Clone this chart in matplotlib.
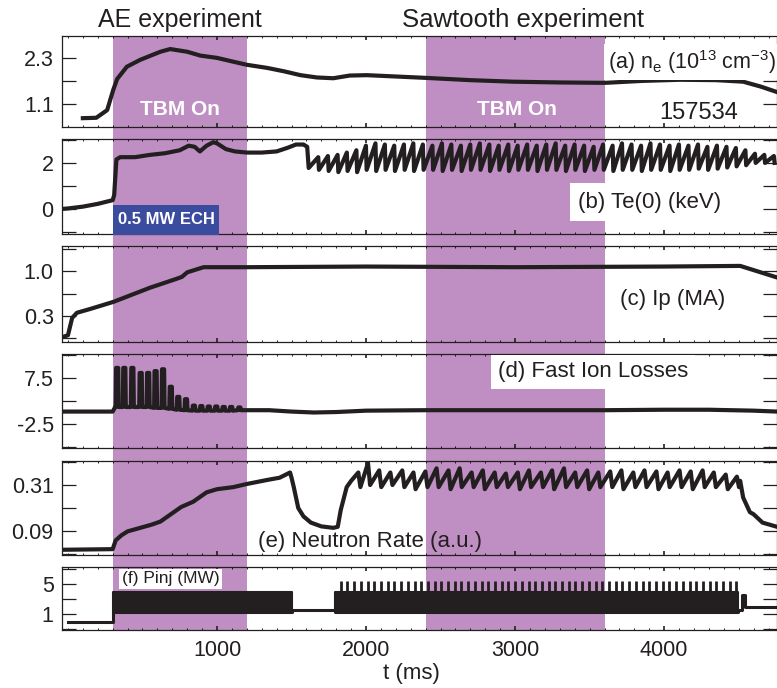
import numpy as np
import matplotlib
matplotlib.use('Agg')
import matplotlib.pyplot as plt
from matplotlib.patches import Rectangle
from matplotlib.transforms import blended_transform_factory

plt.rcParams['font.family'] = ['Liberation Sans', 'DejaVu Sans']
plt.rcParams['mathtext.fontset'] = 'custom'
plt.rcParams['mathtext.rm'] = 'Liberation Sans'
plt.rcParams['mathtext.it'] = 'Liberation Sans:italic'

W, H = 777, 688
INK = '#231f20'
PURPLE = '#bf8fc3'

# ---- data ----
span_start = [300, 2400]
span_end = [1200, 3600]

# (a) line-averaged density
ne_t = [100, 190, 263, 304, 330, 395, 485, 620, 686, 800, 888, 1000, 1110, 1200, 1335, 1450,
        1560, 1670, 1780, 1890, 2005, 2230, 2396, 2700, 2987, 3300, 3604, 3850, 4106, 4350,
        4530, 4650, 4757]
ne_v = [0.73, 0.74, 0.94, 1.47, 1.75, 2.07, 2.25, 2.46, 2.53, 2.46, 2.36, 2.30, 2.20, 2.12,
        2.04, 1.95, 1.85, 1.79, 1.77, 1.84, 1.85, 1.81, 1.78, 1.72, 1.68, 1.66, 1.65, 1.70,
        1.73, 1.72, 1.68, 1.55, 1.41]

# (b) central Te: ramp-up part, then sawtooth crashes
te_t = [-40, 0, 100, 200, 300, 310, 325, 350, 450, 550, 650, 750, 810, 850, 885, 930, 975,
        1000, 1060, 1120, 1200, 1300, 1400, 1470, 1530, 1580, 1605, 1615]
te_v = [0.0, 0.02, 0.10, 0.22, 0.38, 0.60, 2.15, 2.25, 2.25, 2.35, 2.42, 2.55, 2.75, 2.70,
        2.50, 2.75, 2.90, 2.85, 2.60, 2.50, 2.45, 2.45, 2.50, 2.65, 2.80, 2.80, 2.70, 1.78]
te_crash = [1680, 1745, 1810, 1872, 1936, 2000, 2064, 2127, 2190, 2255, 2318, 2382, 2446,
            2510, 2573, 2637, 2700, 2764, 2828, 2891, 2955, 3018, 3082, 3146, 3210, 3273,
            3337, 3400, 3464, 3528, 3591, 3655, 3718, 3782, 3846, 3909, 3973, 4037, 4100,
            4164, 4228, 4291, 4355, 4419, 4482, 4546, 4610, 4673, 4737]
te_peak = [2.25, 2.30, 2.35, 2.45, 2.55, 2.75, 2.85, 2.80, 2.75, 2.80, 2.85, 2.80, 2.75,
           2.85, 2.80, 2.75, 2.80, 2.85, 2.80, 2.75, 2.80, 2.75, 2.80, 2.75, 2.80, 2.85,
           2.75, 2.80, 2.75, 2.70, 2.80, 2.75, 2.85, 2.80, 2.75, 2.85, 2.80, 2.75, 2.80,
           2.75, 2.80, 2.70, 2.75, 2.70, 2.65, 2.55, 2.40, 2.35, 2.30]
te_trough = [1.70, 1.65, 1.60, 1.65, 1.60, 1.70, 1.65, 1.70, 1.65, 1.70, 1.65, 1.70, 1.70,
             1.65, 1.70, 1.65, 1.70, 1.70, 1.65, 1.70, 1.65, 1.70, 1.70, 1.65, 1.70, 1.70,
             1.65, 1.70, 1.65, 1.70, 1.70, 1.65, 1.70, 1.70, 1.65, 1.70, 1.70, 1.65, 1.70,
             1.70, 1.75, 1.70, 1.75, 1.80, 1.85, 1.90, 2.00, 2.00, 2.00]

# (c) plasma current
ip_t = [-40, 0, 28, 60, 150, 305, 550, 730, 765, 800, 910, 1200, 2000, 3000, 4000, 4510,
        4620, 4757]
ip_v = [-0.03, 0.0, 0.27, 0.35, 0.41, 0.52, 0.74, 0.88, 0.91, 0.98, 1.06, 1.06, 1.07, 1.06,
        1.07, 1.08, 1.00, 0.90]

# (d) fast ion loss signal: baseline plus burst spikes
fil_t0 = [-40, 300, 317]
fil_v0 = [0.2, 0.2, 1.2]
fil_spike_t = [330, 378, 432, 488, 538, 588, 638, 690, 740, 792, 845, 895, 945, 995, 1045,
               1095, 1150]
fil_spike_v = [9.7, 9.7, 9.7, 8.6, 8.6, 9.0, 9.4, 5.6, 3.4, 2.9, 1.5, 1.4, 1.3, 1.3, 1.2,
               1.2, 1.1]
fil_spike_base = [1.2, 1.2, 1.2, 1.2, 1.2, 1.0, 1.0, 0.8, 0.6, 0.5, 0.4, 0.4, 0.4, 0.4,
                  0.4, 0.4, 0.5]
fil_t1 = [1200, 1350, 1500, 1650, 1800, 2000, 2400, 3000, 3600, 4000, 4300, 4600, 4757]
fil_v1 = [0.5, 0.5, 0.2, 0.0, 0.1, 0.4, 0.5, 0.5, 0.5, 0.6, 0.6, 0.4, 0.2]

# (e) neutron rate
nr_t = [-40, 300, 320, 360, 400, 480, 560, 620, 700, 760, 840, 930, 1000, 1110, 1200, 1335,
        1420, 1490, 1500, 1515, 1545, 1580, 1630, 1700, 1780, 1810, 1830, 1870, 1900]
nr_v = [0.0, 0.003, 0.045, 0.07, 0.088, 0.104, 0.12, 0.135, 0.175, 0.205, 0.23, 0.275,
        0.29, 0.30, 0.315, 0.334, 0.345, 0.37, 0.345, 0.30, 0.20, 0.16, 0.13, 0.112, 0.105,
        0.11, 0.19, 0.30, 0.33]
nr_crash = [1950, 2015, 2090, 2165, 2245, 2320, 2400, 2475, 2555, 2630, 2710, 2785, 2865,
            2940, 3020, 3095, 3175, 3250, 3330, 3405, 3485, 3560, 3640, 3715, 3795, 3870,
            3950, 4025, 4105, 4180, 4260, 4335, 4415, 4490]
nr_peak = [0.37, 0.415, 0.38, 0.37, 0.38, 0.37, 0.375, 0.39, 0.38, 0.39, 0.37, 0.38, 0.37,
           0.365, 0.37, 0.38, 0.37, 0.38, 0.39, 0.37, 0.38, 0.37, 0.375, 0.38, 0.37, 0.38,
           0.375, 0.37, 0.38, 0.375, 0.38, 0.37, 0.36, 0.35]
nr_trough = [0.30, 0.31, 0.30, 0.31, 0.30, 0.29, 0.30, 0.30, 0.29, 0.30, 0.30, 0.29, 0.30,
             0.30, 0.29, 0.30, 0.30, 0.29, 0.30, 0.30, 0.29, 0.30, 0.30, 0.29, 0.30, 0.30,
             0.29, 0.30, 0.30, 0.29, 0.30, 0.30, 0.29, 0.30]
nr_end_t = [4510, 4530, 4575, 4600, 4660, 4757]
nr_end_v = [0.33, 0.25, 0.18, 0.17, 0.13, 0.11]

# (f) injected power: modulated band, between-band levels, pulses
pinj_t = [0, 300, 300, 1500, 1500, 1790, 1790, 4495, 4495, 4520, 4520, 4545, 4545, 4757]
pinj_v = [0.0, 0.0, 1.3, 1.3, 1.5, 1.5, 1.3, 1.3, 1.5, 1.5, 3.5, 3.5, 1.95, 1.95]
band_start = [300, 1790]
band_end = [1500, 4495]
band_lo, band_hi = 1.3, 3.9
pulse_top = 5.4
pulse_t = [1830, 1875, 1920, 1965, 2010, 2055, 2100, 2145, 2190, 2235, 2280, 2325, 2370,
           2415, 2460, 2505, 2550, 2595, 2640, 2685, 2730, 2775, 2820, 2865, 2910, 2955,
           3000, 3045, 3090, 3135, 3180, 3225, 3270, 3315, 3360, 3405, 3450, 3495, 3540,
           3585, 3630, 3675, 3720, 3765, 3810, 3855, 3900, 3945, 3990, 4035, 4080, 4125,
           4170, 4215, 4260, 4305, 4350, 4395, 4440, 4480]

# ---- build traces ----
te_x, te_y = list(te_t), list(te_v)
for c, p, tr in zip(te_crash, te_peak, te_trough):
    te_x += [c - 1, c + 4]
    te_y += [p, tr]

fil_x, fil_y = list(fil_t0), list(fil_v0)
for c, p, b in zip(fil_spike_t, fil_spike_v, fil_spike_base):
    fil_x += [c - 10, c - 7, c + 7, c + 10]
    fil_y += [b, p, p, b]
fil_x += fil_t1
fil_y += fil_v1

nr_x, nr_y = list(nr_t), list(nr_v)
for c, p, tr in zip(nr_crash, nr_peak, nr_trough):
    nr_x += [c - 2, c + 12]
    nr_y += [p, tr]
nr_x += nr_end_t
nr_y += nr_end_v

# ---- layout ----
fig = plt.figure(figsize=(W / 100, H / 100), dpi=100, facecolor='white')
panels = [(36, 127), (139, 234), (246, 342), (354, 448), (461, 555), (567, 630)]
ylims = [(0.5, 2.87), (-1.09, 3.04), (-0.105, 1.39), (-7.72, 12.72), (-0.025, 0.425),
         (-1.13, 7.27)]
majors = [[1.1, 2.3], [0, 2], [0.3, 1.0], [-2.5, 7.5], [0.09, 0.31], [1, 5]]
majlab = [['1.1', '2.3'], ['0', '2'], ['0.3', '1.0'], ['-2.5', '7.5'], ['0.09', '0.31'],
          ['1', '5']]
minors = [[1.7], [-1, 1, 3], [-0.05, 0.65, 1.35], [-7.5, 2.5, 12.5], [-0.02, 0.2, 0.42],
          [-1, 3, 7]]

left = 62 / W
axes = []
for (top, bot), yl, mj, ml, mn in zip(panels, ylims, majors, majlab, minors):
    ax = fig.add_axes([left, 1 - bot / H, 1 - left, (bot - top) / H])
    ax.set_facecolor('none')
    ax.set_xlim(-40, 4757)
    ax.set_ylim(*yl)
    ax.set_yticks(mj, ml)
    ax.set_yticks(mn, minor=True)
    ax.set_xticks([1000, 2000, 3000, 4000])
    ax.set_xticks(np.arange(0, 4800, 100), minor=True)
    ax.tick_params(axis='y', which='both', direction='in', length=10, width=0.9,
                   left=True, right=True, labelsize=15.5, pad=6, colors=INK)
    ax.tick_params(axis='x', which='major', direction='in', length=3, width=1.2,
                   top=True, bottom=True, labelsize=15.5, pad=7, colors=INK)
    ax.tick_params(axis='x', which='minor', direction='in', length=1.5, width=0.6,
                   top=True, bottom=True)
    for s in ax.spines.values():
        s.set_linewidth(0.9)
        s.set_color(INK)
    axes.append(ax)
for ax in axes[:-1]:
    ax.tick_params(axis='x', labelbottom=False)

# purple spans running through all panels
ax_a, ax_b, ax_c, ax_d, ax_e, ax_f = axes
tr = blended_transform_factory(ax_f.transData, fig.transFigure)
for s0, s1 in zip(span_start, span_end):
    fig.add_artist(Rectangle((s0, 1 - 630 / H), s1 - s0, (630 - 36) / H, transform=tr,
                             facecolor=PURPLE, edgecolor='none', zorder=-1))

lw = 3.0
ax_a.plot(ne_t, ne_v, color=INK, lw=lw, solid_joinstyle='round')
ax_b.plot(te_x, te_y, color=INK, lw=lw, solid_joinstyle='round')
ax_c.plot(ip_t, ip_v, color=INK, lw=lw, solid_joinstyle='round')
ax_d.plot(fil_x, fil_y, color=INK, lw=lw, solid_joinstyle='round')
ax_e.plot(nr_x, nr_y, color=INK, lw=lw, solid_joinstyle='round')
ax_f.plot(pinj_t, pinj_v, color=INK, lw=2.2)
for b0, b1 in zip(band_start, band_end):
    ax_f.fill_between([b0, b1], band_lo, band_hi, color=INK, lw=1.5, edgecolor=INK)
ax_f.vlines(pulse_t, band_hi, pulse_top, color=INK, lw=2.0)

# ---- text ----
def fx(x):
    return x / W

def fy(y):
    return 1 - y / H

fig.text(fx(180), fy(27), 'AE experiment', fontsize=18, color=INK, ha='center', va='baseline')
fig.text(fx(523), fy(27), 'Sawtooth experiment', fontsize=18.5, color=INK, ha='center',
         va='baseline')
for xc in (180, 517):
    fig.text(fx(xc), fy(115), 'TBM On', fontsize=15, weight='bold', color='white',
             ha='center', va='baseline')
fig.text(fx(699), fy(119), '157534', fontsize=17, color=INK, ha='center', va='baseline')

box = dict(facecolor='white', edgecolor='none', pad=3)
fig.text(fx(776), fy(62), r'(a) n$_{\rm e}$ (10$^{13}$ cm$^{-3}$)', fontsize=15.5, color=INK,
         ha='right', va='center', bbox=box)
fig.text(fx(578), fy(202), '(b) Te(0) (keV)', fontsize=16, color=INK, ha='left', va='center',
         bbox=dict(facecolor='white', edgecolor='none', pad=6))
fig.text(fx(620), fy(300), '(c) Ip (MA)', fontsize=16, color=INK, ha='left', va='center')
fig.text(fx(498), fy(372), '(d) Fast Ion Losses', fontsize=16, color=INK, ha='left',
         va='center', bbox=dict(facecolor='white', edgecolor='none', pad=5))
fig.text(fx(258), fy(541), '(e) Neutron Rate (a.u.)', fontsize=16, color=INK, ha='left',
         va='center')
fig.text(fx(122), fy(579), '(f) Pinj (MW)', fontsize=12.5, color=INK, ha='left', va='center',
         bbox=dict(facecolor='white', edgecolor='none', pad=2))

fig.add_artist(Rectangle((fx(113), fy(235)), 106 / W, 30 / H, transform=fig.transFigure,
                         facecolor='#3b4c9f', edgecolor='none', zorder=5))
fig.text(fx(166), fy(220), '0.5 MW ECH', fontsize=12, weight='bold', color='white',
         ha='center', va='center', zorder=6)

fig.text(fx(411), fy(673), 't (ms)', fontsize=16, color=INK, ha='center', va='center')

fig.savefig('out.png', dpi=100)
